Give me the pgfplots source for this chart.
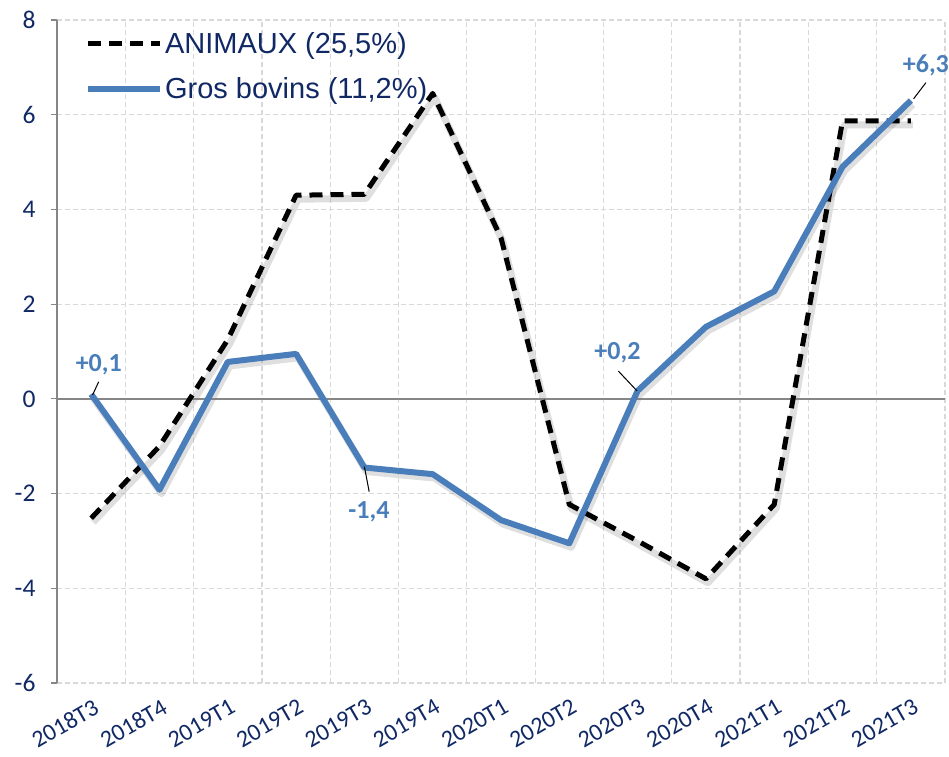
\documentclass[border=0pt]{standalone}
\usepackage{pgfplots}
\pgfplotsset{compat=1.18}
\usepackage{fontspec}
\setmainfont{Liberation Sans}
\newfontfamily\calibri{Carlito}
\definecolor{navy}{RGB}{16,40,100}
\definecolor{bleu}{RGB}{74,126,187}
\definecolor{gridc}{RGB}{217,217,217}
\definecolor{axc}{RGB}{134,134,134}

\pgfplotstableread{
x animaux bovins
0  -2.52  0.10
1  -1.00 -1.92
2   1.25  0.78
3   4.30  0.95
4   4.32 -1.45
5   6.45 -1.59
6   3.40 -2.56
7  -2.23 -3.05
8  -3.00  0.17
9  -3.80  1.52
10 -2.23  2.27
11  5.87  4.90
12  5.87  6.30
}\datatable

\begin{document}
\begin{tikzpicture}[x=1pt,y=1pt]
\useasboundingbox (-57,-73) rectangle (892,683);
\begin{axis}[
  at={(0,0)}, anchor=south west,
  width=888pt, height=663pt, scale only axis,
  xmin=-0.5, xmax=12.5, ymin=-6, ymax=8,
  axis y line*=left, axis x line*=bottom,
  x axis line style={draw=none},
  y axis line style={draw=axc, line width=1.2pt},
  ytick={-6,-4,...,8},
  extra y ticks={0},
  extra y tick labels={},
  extra y tick style={grid style={solid, draw=axc, line width=1.5pt}, major tick length=6pt},
  xtick={0,...,12},
  xticklabels={2018T3,2018T4,2019T1,2019T2,2019T3,2019T4,2020T1,2020T2,2020T3,2020T4,2021T1,2021T2,2021T3},
  minor xtick={-0.5,0.5,...,12.5},
  xmajorgrids=false, xminorgrids=true, ymajorgrids=true,
  grid style={dashed, dash pattern=on 5pt off 3pt, draw=gridc, line width=1.2pt},
  minor grid style={dashed, dash pattern=on 5pt off 3pt, draw=gridc, line width=1.2pt},
  tick align=outside,
  major tick length=6pt,
  minor tick length=0pt,
  xtick style={draw=none},
  ytick style={draw=axc, line width=1.2pt},
  /pgf/number format/assume math mode=true,
  yticklabel style={font=\calibri\fontsize{25.5}{28}\selectfont, text=navy, xshift=-12pt},
  xticklabel style={font=\calibri\fontsize{24}{27}\selectfont, text=navy, rotate=30, anchor=north east, inner sep=0.5pt, xshift=-3pt, yshift=-8pt},
  legend style={draw=none, fill=none, at={(0.028,0.988)}, anchor=north west,
    font=\fontsize{29}{32}\selectfont, text=navy, row sep=19pt,
    /tikz/every odd column/.style={column sep=0pt}},
  legend cell align=left,
  legend image code/.code={\draw[#1] (0pt,0pt) -- (72pt,0pt);},
  clip=false,
]
\addplot[gray, opacity=0.25, line width=7pt, xshift=2pt, yshift=-4pt, forget plot, line join=round] table[x=x, y=animaux] {\datatable};
\addplot[gray, opacity=0.25, line width=7pt, xshift=2pt, yshift=-4pt, forget plot, line join=round] table[x=x, y=bovins] {\datatable};
\addplot[black, line width=5pt, dash pattern=on 13pt off 8pt, line join=round] table[x=x, y=animaux] {\datatable};
\addlegendentry{ANIMAUX (25,5\%)}
\addplot[bleu, line width=6pt, line join=round] table[x=x, y=bovins] {\datatable};
\addlegendentry{Gros bovins (11,2\%)}

\draw[black, line width=1pt] (axis cs:0.02,0.08) -- (axis cs:0.11,0.36);
\node[text=bleu, font=\calibri\bfseries\fontsize{26}{30}\selectfont] at (axis cs:0.112,0.726) {+0,1};
\draw[black, line width=1pt] (axis cs:4.0,-1.43) -- (axis cs:4.07,-1.96);
\node[text=bleu, font=\calibri\bfseries\fontsize{26}{30}\selectfont] at (axis cs:4.067,-2.383) {-1,4};
\draw[black, line width=1pt] (axis cs:7.99,0.17) -- (axis cs:7.717,0.588);
\node[text=bleu, font=\calibri\bfseries\fontsize{26}{30}\selectfont] at (axis cs:7.705,0.973) {+0,2};
\draw[black, line width=1pt] (axis cs:12.04,6.336) -- (axis cs:12.22,6.676);
\node[text=bleu, font=\calibri\bfseries\fontsize{26}{30}\selectfont] at (axis cs:12.22,7.045) {+6,3};
\end{axis}
\end{tikzpicture}
\end{document}
